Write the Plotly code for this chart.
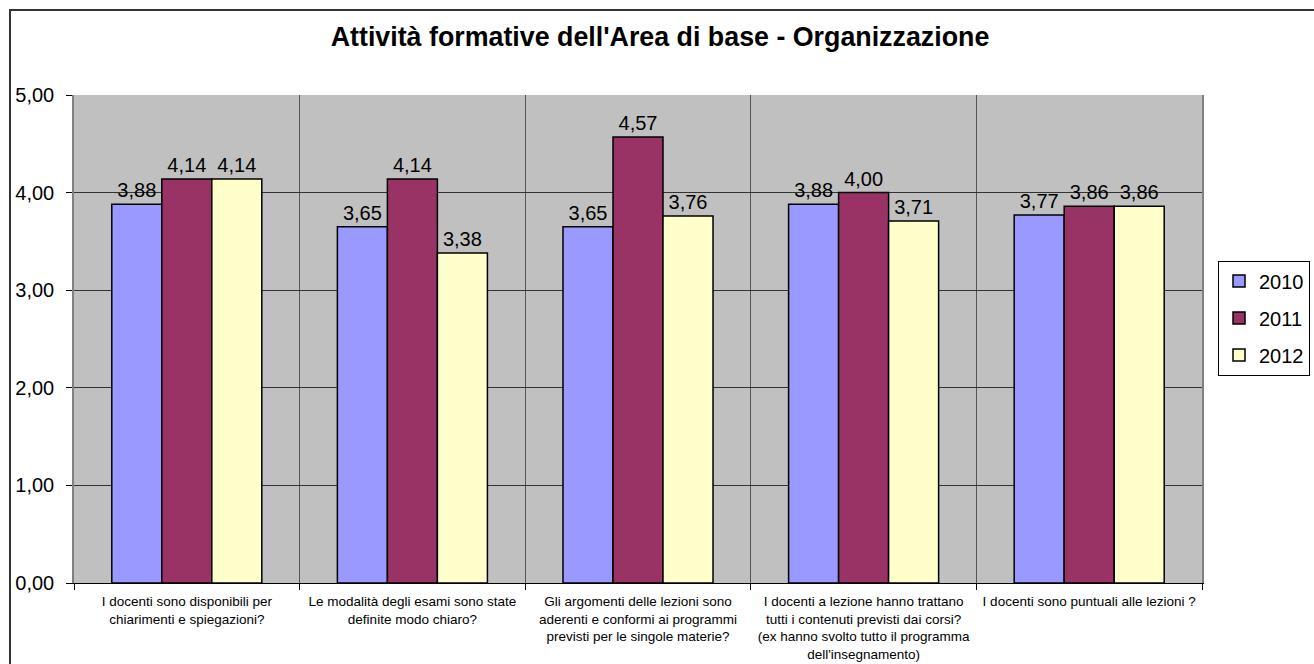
import plotly.graph_objects as go

categories = [
    "I docenti sono disponibili per<br>chiarimenti e spiegazioni?",
    "Le modalità degli esami sono state<br>definite modo chiaro?",
    "Gli argomenti delle lezioni sono<br>aderenti e conformi ai programmi<br>previsti per le singole materie?",
    "I docenti a lezione hanno trattano<br>tutti i contenuti previsti dai corsi?<br>(ex hanno svolto tutto il programma<br>dell'insegnamento)",
    "I docenti sono puntuali alle lezioni ?",
]
series_names = ["2010", "2011", "2012"]
values_2010 = [3.88, 3.65, 3.65, 3.88, 3.77]
values_2011 = [4.14, 4.14, 4.57, 4.00, 3.86]
values_2012 = [4.14, 3.38, 3.76, 3.71, 3.86]
y_ticks = [0, 1, 2, 3, 4, 5]

colors = ["#9999FF", "#993366", "#FFFFCC"]
FONT = "Liberation Sans, Arial, sans-serif"

W, H = 1314, 664
ML, MT, MR, MB = 74, 95, 112, 81
PW, PH = W - ML - MR, H - MT - MB

fig = go.Figure()
for i, (name, vals) in enumerate(zip(series_names, [values_2010, values_2011, values_2012])):
    fig.add_trace(go.Bar(
        x=categories, y=vals, name=name,
        marker=dict(color=colors[i], line=dict(color="black", width=1.5)),
        texttemplate="%{y:.2f}", textposition="outside",
        textfont=dict(family=FONT, size=20, color="black"),
        cliponaxis=False,
        legendgroup=name,
    ))

fig.update_layout(
    width=W, height=H,
    margin=dict(l=ML, r=MR, t=MT, b=MB, autoexpand=False),
    paper_bgcolor="white",
    plot_bgcolor="#C0C0C0",
    separators=",.",
    barmode="group", bargap=0.335, bargroupgap=0,
    font=dict(family=FONT, color="black"),
    title=dict(
        text="<b>Attività formative dell'Area di base - Organizzazione</b>",
        font=dict(family=FONT, size=26.8, color="black"),
        x=660 / W, xref="container", xanchor="center",
        y=1 - 37 / H, yref="container", yanchor="middle",
    ),
    legend=dict(
        x=(1218 - ML) / PW, xanchor="left", y=(583 - 318) / PH, yanchor="middle",
        bgcolor="white", bordercolor="black", borderwidth=1,
        font=dict(family=FONT, size=20, color="black"),
        tracegroupgap=8,
        itemwidth=30,
    ),
    showlegend=True,
)

fig.update_xaxes(
    type="category",
    automargin=False,
    tickson="boundaries",
    showgrid=True, gridcolor="#555555", gridwidth=1,
    ticks="outside", ticklen=6, tickcolor="black",
    showline=True, linecolor="black", linewidth=1,
    tickfont=dict(family=FONT, size=13.5, color="black"),
    ticklabelstandoff=6,
    mirror=False,
    tickangle=0,
)
fig.update_yaxes(
    range=[0, 5],
    automargin=False,
    tickvals=y_ticks, tickformat=".2f",
    showgrid=True, gridcolor="#333333", gridwidth=1,
    ticks="outside", ticklen=6, tickcolor="black",
    showline=True, linecolor="#808080", linewidth=1.5, mirror=True,
    tickfont=dict(family=FONT, size=20, color="black"),
    ticklabelstandoff=8,
    zeroline=False,
)

# outer chart frame (extends past the right/bottom of the picture, as in the reference)
fig.add_shape(type="rect", xref="paper", yref="paper",
              x0=(10 - ML) / PW, x1=1.3, y0=-0.4, y1=1 + (MT - 10) / PH,
              line=dict(color="#333333", width=2), fillcolor="rgba(0,0,0,0)", layer="below")

fig.write_html("out.html", config={"displayModeBar": False},
               post_script="document.body.style.margin='0';document.body.style.overflow='hidden';")
